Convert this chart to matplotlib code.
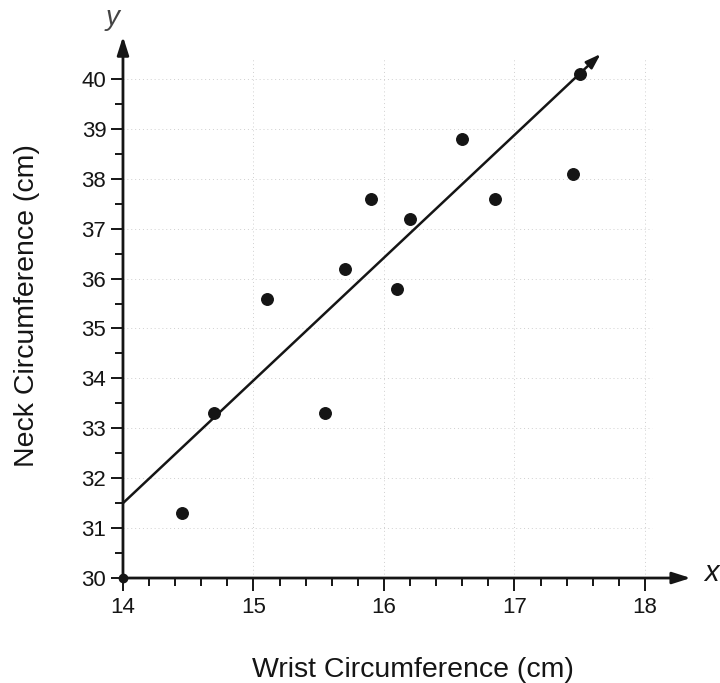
import matplotlib
matplotlib.use("Agg")
import matplotlib.pyplot as plt
from matplotlib.ticker import FixedLocator
import numpy as np

# Wrist vs. neck circumference measurements (cm)
wrist = [14.45, 14.7, 15.1, 15.55, 15.7, 15.9, 16.1, 16.2, 16.6, 16.85, 17.45, 17.5]
neck = [31.3, 33.3, 35.6, 33.3, 36.2, 37.6, 35.8, 37.2, 38.8, 37.6, 38.1, 40.1]

# Line of best fit: endpoints
fit_x = [14.0, 17.66]
fit_y = [31.5, 40.5]

x_ticks = [14, 15, 16, 17, 18]
y_ticks = [30, 31, 32, 33, 34, 35, 36, 37, 38, 39, 40]

plt.rcParams['font.family'] = ['Liberation Sans', 'DejaVu Sans']
ink = '#151515'

fig = plt.figure(figsize=(7.2, 6.83), dpi=100)
ax = fig.add_axes([0.1708, 0.1537, 0.8066, 0.7965])
ax.set_xlim(14, 18.45)
ax.set_ylim(30, 40.9)

for s in ax.spines.values():
    s.set_visible(False)

# faint dotted grid
for gx in x_ticks[1:]:
    ax.plot([gx, gx], [30, 40.4], ls=(0, (1, 3)), lw=0.7, color='#d0d0d0', zorder=1)
for gy in y_ticks[1:]:
    ax.plot([14, 18.05], [gy, gy], ls=(0, (1, 3)), lw=0.7, color='#d0d0d0', zorder=1)

# axes with arrowheads
arrow_kw = dict(arrowstyle='-|>,head_length=1.1,head_width=0.35', lw=2.0, color=ink,
                shrinkA=0, shrinkB=0)
ax.annotate('', xy=(18.35, 30), xytext=(14, 30), arrowprops=arrow_kw, annotation_clip=False)
ax.annotate('', xy=(14, 40.85), xytext=(14, 30), arrowprops=arrow_kw, annotation_clip=False)
ax.plot([14], [30], 'o', ms=6, color=ink, clip_on=False, zorder=5)

ax.set_xticks(x_ticks)
ax.set_yticks(y_ticks)
ax.xaxis.set_minor_locator(FixedLocator(np.arange(x_ticks[0], x_ticks[-1] + 0.01, 0.2)))
ax.yaxis.set_minor_locator(FixedLocator(np.arange(y_ticks[0], y_ticks[-1] + 0.01, 0.5)))
ax.tick_params(axis='both', which='major', direction='out', length=9, width=1.4,
               color=ink, labelsize=16, labelcolor=ink)
ax.tick_params(axis='both', which='minor', direction='out', length=6, width=1.4, color=ink)
ax.tick_params(axis='x', which='major', pad=5)
ax.tick_params(axis='y', which='major', pad=3)

# scatter points
ax.plot(wrist, neck, 'o', ms=8.3, color=ink, zorder=4, clip_on=False)

# fitted line with arrow at the end
ax.annotate('', xy=(fit_x[1], fit_y[1]), xytext=(fit_x[0], fit_y[0]),
            arrowprops=dict(arrowstyle='-|>,head_length=0.9,head_width=0.3', lw=1.8,
                            color=ink, shrinkA=0, shrinkB=0),
            annotation_clip=False, zorder=3)

ax.set_xlabel('Wrist Circumference (cm)', fontsize=20.5, color=ink, labelpad=28)
ax.set_ylabel('Neck Circumference (cm)', fontsize=20.5, color=ink, labelpad=30)

fig.text(113 / 720, 1 - 18 / 683, 'y', fontsize=20, style='italic', color='#444',
         ha='center', va='center')
fig.text(711 / 720, 1 - 573 / 683, 'x', fontsize=21, style='italic', color=ink,
         ha='center', va='center')

fig.savefig('out.png', dpi=100, facecolor='white')
